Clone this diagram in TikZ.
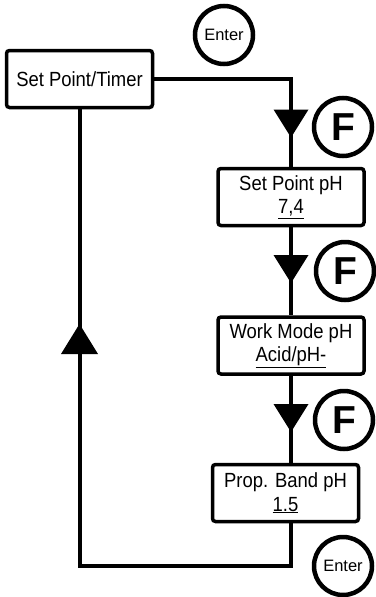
\documentclass[tikz,border=0pt]{standalone}
\usepackage{fontspec}
\setmainfont[FakeStretch=0.9]{Liberation Sans}
\newfontfamily\keyfont{Liberation Sans}
\tikzset{
  menubox/.style={draw, line width=3.5pt, rounded corners=3pt, minimum width=146pt,
    minimum height=57pt, align=center, inner sep=0pt,
    font=\fontsize{20.5}{23.5}\selectfont},
  keyring/.style={draw, circle, line width=4.5pt, minimum size=58pt, inner sep=0pt},
  fkey/.style={keyring, font=\keyfont\bfseries\fontsize{39}{39}\selectfont},
  enterkey/.style={keyring, font=\keyfont\fontsize{16.5}{16.5}\selectfont},
  flow/.style={line width=4pt},
  downtri/.pic={\fill (-17.5,-14) -- (17.5,-14) -- (0,14) -- cycle;},
  uptri/.pic={\fill (-18.5,15) -- (18.5,15) -- (0,-15) -- cycle;},
}
\begin{document}
\begin{tikzpicture}[x=1pt,y=-1pt]
  \useasboundingbox (0,0) rectangle (375,597);
  % Menu boxes
  \node[menubox] (timer) at (79.5,79) {Set Point/Timer};
  \node[menubox] (setph) at (291,197) {Set Point pH\\\underline{7,4}};
  \node[menubox] (mode) at (291,345.5) {Work Mode pH\\\underline{Acid/pH-}};
  \node[menubox] (band) at (285.5,493) {Prop. Band pH\\\underline{1.5}};

  % Keys
  \node[enterkey] (enter1) at (224,35) {Enter};
  \node[fkey] (f1) at (343,127) {F};
  \node[fkey] (f2) at (345,271) {F};
  \node[fkey] (f3) at (344,420) {F};
  \node[enterkey] (enter2) at (343,566) {Enter};

  % Connectors
  \coordinate (corner) at (79.5,566);
  \draw[flow] (timer) -| (setph);
  \draw[flow] (setph) -- (mode);
  \draw[flow] (mode.south) -- (mode.south |- band.north);
  \draw[flow] (band.south -| mode.south) |- (corner) -- (timer.south);

  % Arrow heads
  \pic at (291,123.5) {downtri};
  \pic at (291,269) {downtri};
  \pic at (291,418) {downtri};
  \pic at (79.5,339) {uptri};
\end{tikzpicture}
\end{document}
